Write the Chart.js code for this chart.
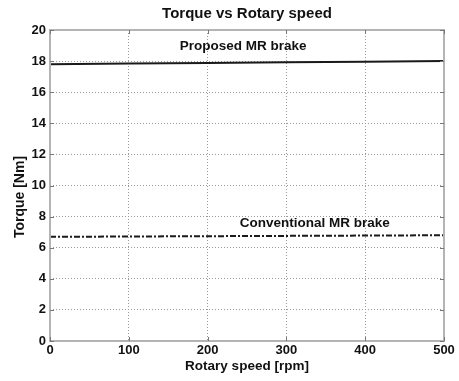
<!DOCTYPE html>
<html>
<head>
<meta charset="utf-8">
<script src="https://cdn.jsdelivr.net/npm/chart.js@4/dist/chart.umd.min.js"></script>
<style>
html,body{margin:0;padding:0;background:#fff;}
#wrap{width:459px;height:381px;position:relative;}
</style>
</head>
<body>
<div id="wrap"><canvas id="c" width="459" height="381"></canvas></div>
<script>
const chartTitle = 'Torque vs Rotary speed';
const xTitle = 'Rotary speed [rpm]';
const yTitle = 'Torque [Nm]';
const speeds = [0, 100, 200, 300, 400, 500];
const proposedTorque = [17.8, 17.84, 17.88, 17.92, 17.96, 18.0];
const conventionalTorque = [6.7, 6.72, 6.74, 6.76, 6.78, 6.8];
const seriesLabels = ['Proposed MR brake', 'Conventional MR brake'];
const labelAnchors = [[245, 18.94], [336, 7.6]];

const FONT = '"Liberation Sans", Arial, Helvetica, sans-serif';
const INK = '#111';

const decor = {
  id: 'decor',
  afterDraw(chart) {
    const ctx = chart.ctx, a = chart.chartArea;
    const xs = chart.scales.x, ys = chart.scales.y;
    ctx.save();
    // frame
    ctx.strokeStyle = '#b4b4b4';
    ctx.lineWidth = 2;
    ctx.strokeRect(a.left, a.top, a.right - a.left, a.bottom - a.top);
    // tick marks inside
    ctx.strokeStyle = '#777';
    ctx.lineWidth = 1;
    ctx.beginPath();
    speeds.forEach(v => {
      const px = Math.round(xs.getPixelForValue(v)) + 0.5;
      ctx.moveTo(px, a.bottom); ctx.lineTo(px, a.bottom - 4);
      ctx.moveTo(px, a.top); ctx.lineTo(px, a.top + 4);
    });
    ys.ticks.forEach(t => {
      const py = Math.round(ys.getPixelForValue(t.value)) + 0.5;
      ctx.moveTo(a.left, py); ctx.lineTo(a.left + 4, py);
      ctx.moveTo(a.right, py); ctx.lineTo(a.right - 4, py);
    });
    ctx.stroke();
    ctx.fillStyle = INK;
    ctx.textAlign = 'center';
    ctx.textBaseline = 'middle';
    // title
    ctx.font = 'bold 15px ' + FONT;
    ctx.fillText(chartTitle, (a.left + a.right) / 2, 14);
    // x title
    ctx.font = 'bold 13.5px ' + FONT;
    ctx.fillText(xTitle, (a.left + a.right) / 2, 366);
    // y title
    ctx.save();
    ctx.translate(20, 197);
    ctx.rotate(-Math.PI / 2);
    ctx.font = 'bold 14px ' + FONT;
    ctx.fillText(yTitle, 0, 0);
    ctx.restore();
    // series labels
    ctx.font = 'bold 13.5px ' + FONT;
    labelAnchors.forEach((p, i) => {
      ctx.fillText(seriesLabels[i], xs.getPixelForValue(p[0]), ys.getPixelForValue(p[1]));
    });
    ctx.restore();
  }
};

new Chart(document.getElementById('c'), {
  type: 'line',
  data: {
    datasets: [
      {
        label: seriesLabels[0],
        data: speeds.map((s, i) => ({x: s, y: proposedTorque[i]})),
        borderColor: '#1a1a1a',
        borderWidth: 2,
        pointRadius: 0,
        tension: 0
      },
      {
        label: seriesLabels[1],
        data: speeds.map((s, i) => ({x: s, y: conventionalTorque[i]})),
        borderColor: '#1a1a1a',
        borderWidth: 2,
        borderDash: [6, 2, 2, 2],
        pointRadius: 0,
        tension: 0
      }
    ]
  },
  options: {
    responsive: false,
    animation: false,
    devicePixelRatio: 1,
    layout: {padding: {top: 30, right: 15, left: 0, bottom: 0}},
    plugins: {legend: {display: false}, title: {display: false}, tooltip: {enabled: false}},
    scales: {
      x: {
        type: 'linear', min: 0, max: 500,
        afterFit(s) { s.height = 40; },
        ticks: {stepSize: 100, color: INK, font: {family: FONT, size: 13, weight: 'bold'}, padding: 2, maxRotation: 0},
        grid: {color: '#9a9a9a', lineWidth: 1, drawTicks: false},
        border: {display: false, dash: [1, 2]}
      },
      y: {
        min: 0, max: 20,
        afterFit(s) { s.width = 50; },
        ticks: {stepSize: 2, color: INK, font: {family: FONT, size: 13, weight: 'bold'}, padding: 4},
        grid: {color: '#9a9a9a', lineWidth: 1, drawTicks: false},
        border: {display: false, dash: [1, 2]}
      }
    }
  },
  plugins: [decor]
});
</script>
</body>
</html>
